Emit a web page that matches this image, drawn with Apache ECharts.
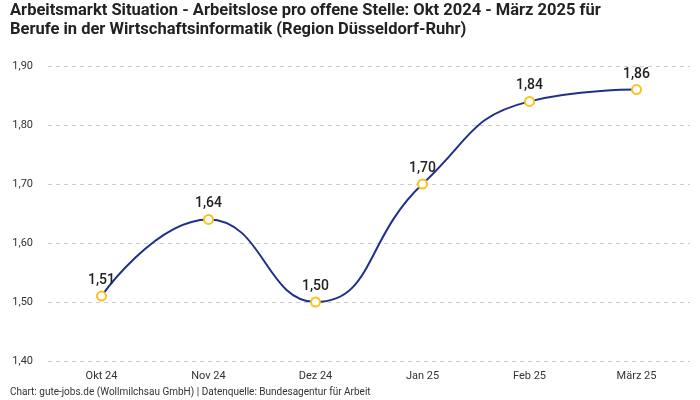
<!DOCTYPE html>
<html><head><meta charset="utf-8">
<script src="https://cdn.jsdelivr.net/npm/echarts@6/dist/echarts.min.js"></script>
<style>html,body{margin:0;padding:0;background:#fff}#c{width:700px;height:400px}</style>
</head><body><div id="c"></div>
<script>
var categories = ['Okt 24','Nov 24','Dez 24','Jan 25','Feb 25','März 25'];
var values = [1.51, 1.64, 1.50, 1.70, 1.84, 1.86];
var yTicks = [1.4, 1.9, 0.1];
var fmt = function(v){ return v.toFixed(2).replace('.', ','); };
var chart = echarts.init(document.getElementById('c'));
chart.setOption({
  animation: false,
  title: [{
    text: 'Arbeitsmarkt Situation - Arbeitslose pro offene Stelle: Okt 2024 - März 2025 für\nBerufe in der Wirtschaftsinformatik (Region Düsseldorf-Ruhr)',
    left: 10, top: 1, padding: 0,
    textStyle: {fontFamily: 'Roboto', fontWeight: 'bold', fontSize: 16.5, lineHeight: 19, color: '#222'}
  },{
    text: 'Chart: gute-jobs.de (Wollmilchsau GmbH) | Datenquelle: Bundesagentur für Arbeit',
    left: 10, top: 387, padding: 0,
    textStyle: {fontFamily: 'Roboto', fontWeight: 'normal', fontSize: 10, color: '#333'}
  }],
  grid: {left: 48, right: 10, top: 66, bottom: 39},
  xAxis: {
    type: 'category', data: categories, boundaryGap: true,
    axisLine: {show: false}, axisTick: {show: false},
    axisLabel: {fontFamily: 'Roboto', fontSize: 11, color: '#333', margin: 10}
  },
  yAxis: {
    type: 'value', min: yTicks[0], max: yTicks[1], interval: yTicks[2],
    axisLabel: {fontFamily: 'Roboto', fontSize: 11, color: '#333', formatter: fmt, margin: 15},
    splitLine: {lineStyle: {type: [4,4], color: '#ccc'}}
  },
  series: [{
    type: 'line', data: values, smooth: 0.5,
    lineStyle: {color: '#1f2f8c', width: 2},
    symbol: 'emptyCircle', symbolSize: 9,
    itemStyle: {color: '#f7c31c', borderColor: '#f7c31c', borderWidth: 2},
    label: {show: true, position: 'top', distance: 3, formatter: function(p){return fmt(p.value);},
      fontFamily: 'Roboto', fontSize: 14, fontWeight: 500, color: '#222'}
  }]
});
</script></body></html>
